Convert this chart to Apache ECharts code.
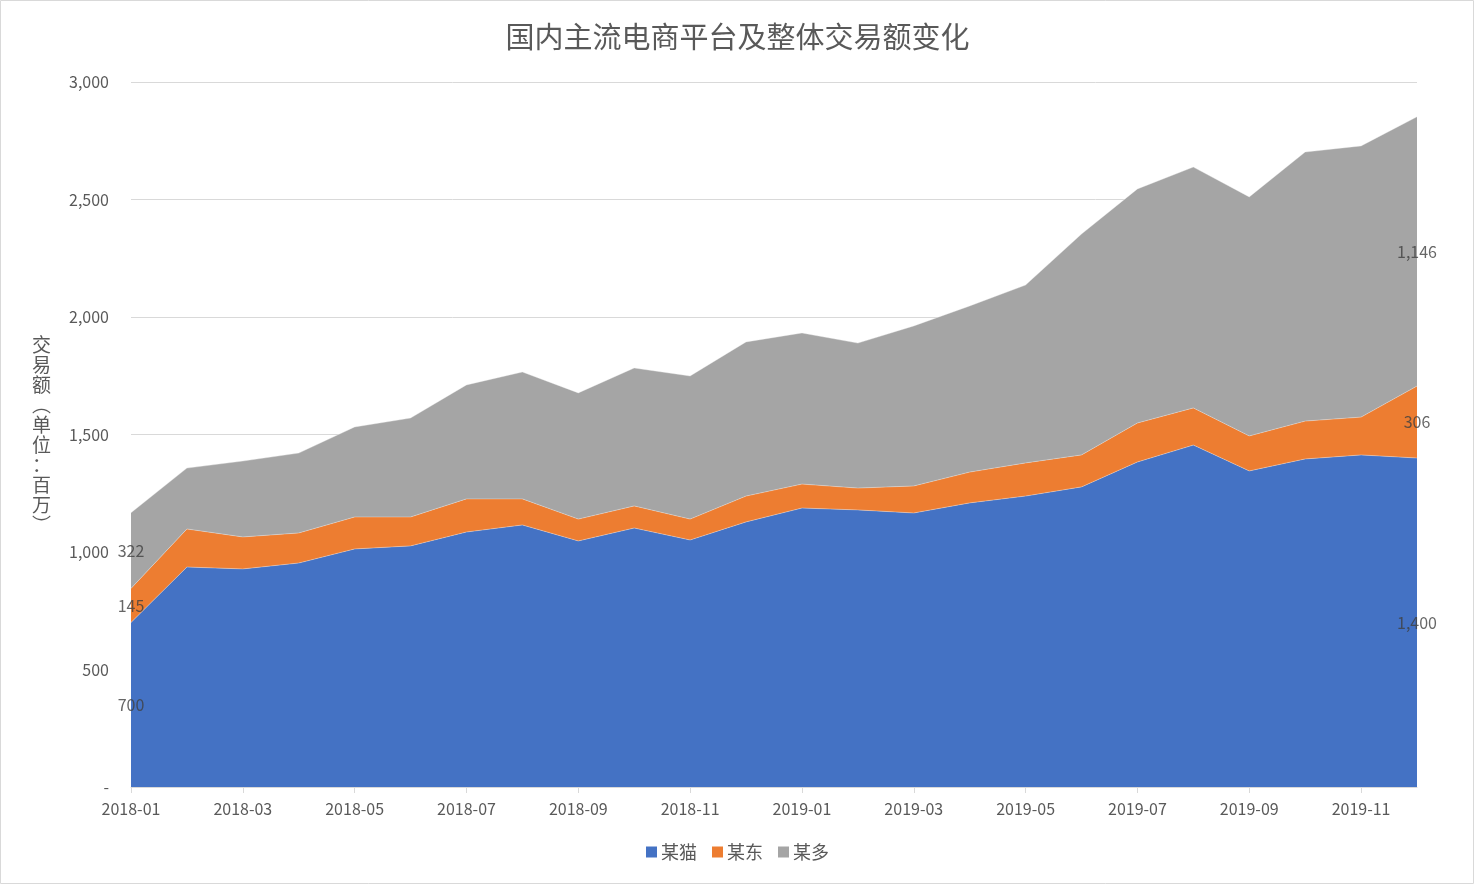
<!DOCTYPE html>
<html>
<head>
<meta charset="utf-8">
<script src="https://cdn.jsdelivr.net/npm/echarts@6/dist/echarts.min.js"></script>
<style>
html,body{margin:0;padding:0;background:#fff;}
#c{width:1475px;height:885px;}
</style>
</head>
<body>
<div id="c"></div>
<script>
var categories = ['2018-01','2018-02','2018-03','2018-04','2018-05','2018-06','2018-07','2018-08','2018-09','2018-10','2018-11','2018-12',
  '2019-01','2019-02','2019-03','2019-04','2019-05','2019-06','2019-07','2019-08','2019-09','2019-10','2019-11','2019-12'];
var seriesNames = ['某猫','某东','某多'];
var maoValues = [700, 936, 928, 953, 1013, 1026, 1085, 1115, 1047, 1102, 1051, 1128, 1187, 1179, 1166, 1209, 1238, 1277, 1383, 1455, 1345, 1396, 1413, 1400];
var dongValues = [145, 162, 136, 128, 136, 123, 141, 111, 93, 94, 89, 110, 102, 93, 115, 131, 141, 136, 166, 158, 149, 161, 161, 306];
var duoValues = [322, 259, 323, 340, 383, 421, 485, 540, 537, 587, 609, 656, 643, 617, 681, 707, 757, 940, 996, 1025, 1017, 1145, 1154, 1146];
var yTicks = [0, 500, 1000, 1500, 2000, 2500, 3000];

var colors = ['#4472C4', '#ED7D31', '#A5A5A5'];
var font = '"Noto Sans CJK SC", "Noto Sans", sans-serif';
var allValues = [maoValues, dongValues, duoValues];

// label points at the middle of each band for the first and last month
var labelData = [];
[0, categories.length - 1].forEach(function (i) {
  var base = 0;
  allValues.forEach(function (arr) {
    var v = arr[i];
    labelData.push([categories[i], base + v / 2, v]);
    base += v;
  });
});

function fmt(v) {
  return v === 0 ? '-' : v.toLocaleString('en-US');
}

var chart = echarts.init(document.getElementById('c'));
var series = allValues.map(function (arr, k) {
  return {
    name: seriesNames[k],
    type: 'line',
    stack: 'total',
    data: arr,
    symbol: 'none',
    lineStyle: { width: 0.6, color: '#f2f2f2', opacity: 0.6 },
    areaStyle: { color: colors[k], opacity: 1 },
    itemStyle: { color: colors[k] },
    emphasis: { disabled: true },
    z: 2
  };
});
series.push({
  type: 'scatter',
  data: labelData,
  symbolSize: 0,
  silent: true,
  z: 5,
  label: {
    show: true,
    position: 'inside',
    color: '#404040',
    fontSize: 16,
    fontFamily: font,
    formatter: function (p) { return fmt(p.value[2]); }
  }
});

chart.setOption({
  animation: false,
  color: colors,
  title: {
    text: '国内主流电商平台及整体交易额变化',
    left: 'center',
    top: 17,
    textStyle: { fontSize: 29, fontWeight: 'normal', color: '#595959', fontFamily: font }
  },
  legend: {
    data: seriesNames,
    bottom: 19,
    left: 'center',
    icon: 'rect',
    itemWidth: 11,
    itemHeight: 11,
    itemGap: 15,
    textStyle: { fontSize: 18, color: '#595959', fontFamily: font, padding: [0, 0, 0, -1] }
  },
  grid: { left: 131, right: 58, top: 82, bottom: 98, containLabel: false },
  xAxis: {
    type: 'category',
    data: categories,
    boundaryGap: false,
    axisLine: { lineStyle: { color: '#d9d9d9', width: 1 } },
    axisTick: { show: true, interval: 1, length: 6, lineStyle: { color: '#d9d9d9' } },
    axisLabel: { interval: 1, color: '#595959', fontSize: 16, fontFamily: font, margin: 14 },
    z: 10
  },
  yAxis: {
    type: 'value',
    min: 0,
    max: 3000,
    interval: 500,
    name: '交\n易\n额\n︵\n单\n位\n：\n百\n万\n︶',
    nameLocation: 'middle',
    nameRotate: 0,
    nameGap: 80,
    nameTextStyle: { fontSize: 19, color: '#595959', fontFamily: font, lineHeight: 20 },
    axisLine: { show: false },
    axisTick: { show: false },
    splitLine: { lineStyle: { color: '#d9d9d9', width: 1 } },
    axisLabel: {
      color: '#595959', fontSize: 16, fontFamily: font, margin: 22,
      formatter: function (v) { return yTicks.indexOf(v) >= 0 ? fmt(v) : ''; }
    }
  },
  graphic: [{
    type: 'rect',
    shape: { x: 0.5, y: 0.5, width: 1473, height: 883 },
    style: { fill: 'none', stroke: '#d9d9d9', lineWidth: 1 },
    silent: true
  }],
  series: series
});
</script>
</body>
</html>
